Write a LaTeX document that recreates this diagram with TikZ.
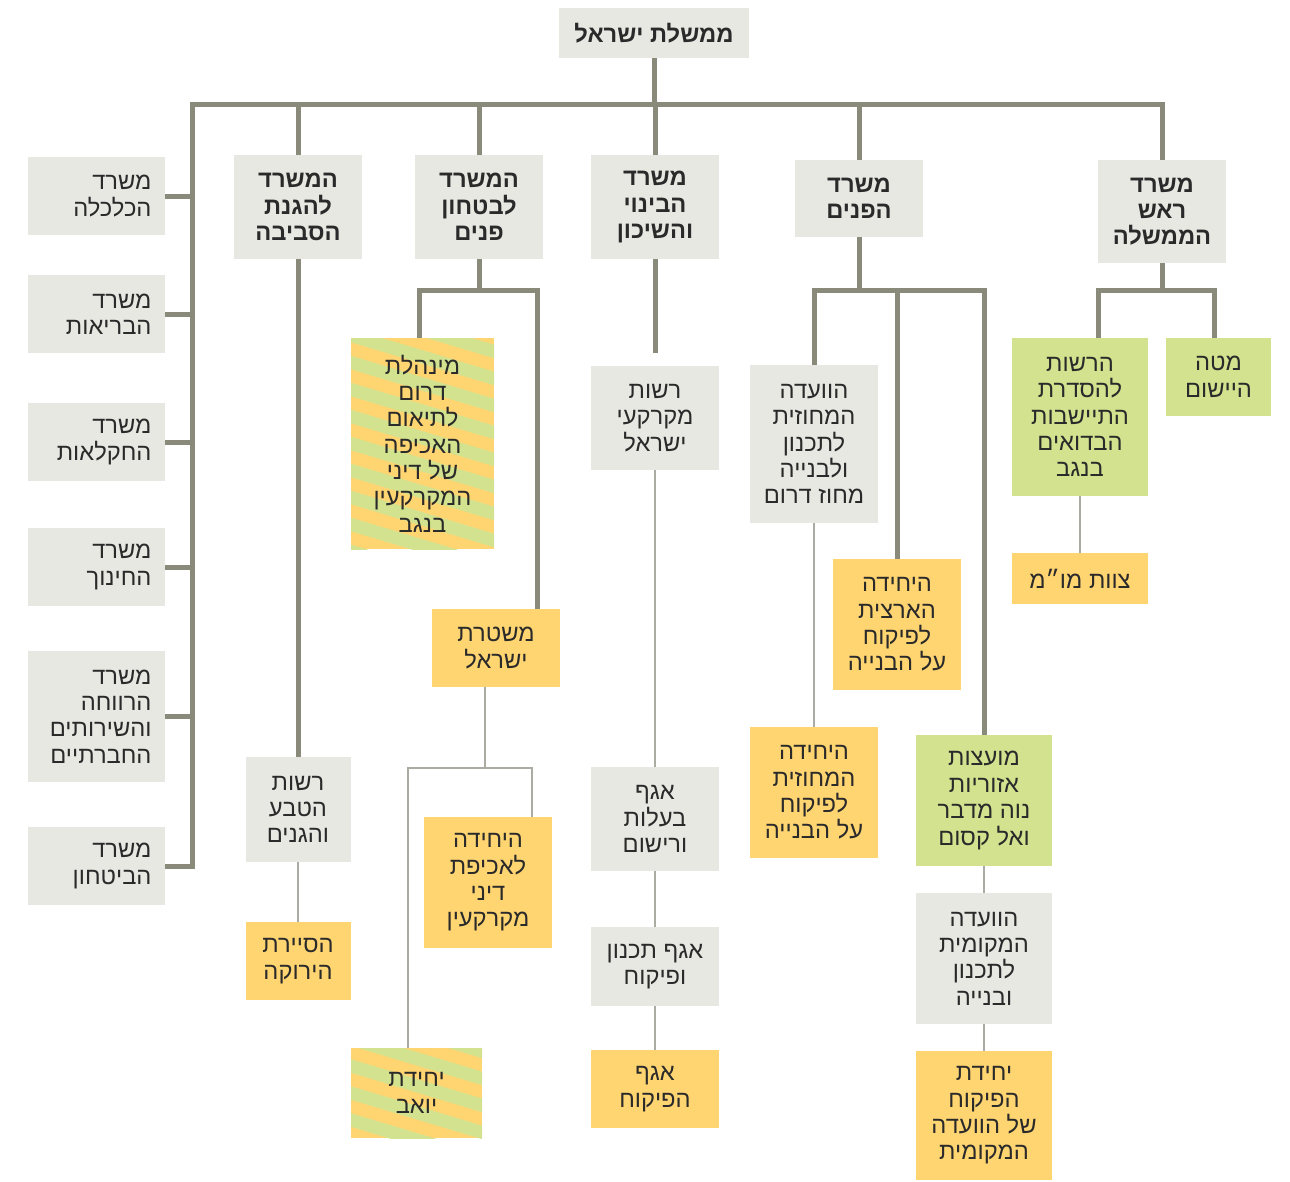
\documentclass[tikz,border=0pt]{standalone}
\usepackage{fontspec}
\setmainfont{Liberation Sans}
\newfontfamily\hebfont[Script=Hebrew]{Liberation Sans}
\TeXXeTstate=1
\newcommand{\rl}[1]{\beginR#1\endR}
\definecolor{boxGray}{HTML}{E7E8E2}
\definecolor{boxLime}{HTML}{D2E28E}
\definecolor{boxYellow}{HTML}{FFD572}
\definecolor{lineDark}{HTML}{8A8A7B}
\definecolor{lineLight}{HTML}{ABABA3}
\definecolor{inkText}{HTML}{2A2A2A}
\begin{document}
\begin{tikzpicture}[x=0.02cm,y=-0.02cm,
    orgbox/.style={inner sep=0pt, align=center, text=inkText,
      font=\hebfont\fontsize{13.5}{15}\selectfont},
    sz/.style 2 args={minimum width=#1*0.02cm, minimum height=#2*0.02cm},
    gbox/.style={orgbox, fill=boxGray},
    ybox/.style={orgbox, fill=boxYellow},
    lbox/.style={orgbox, fill=boxLime},
    sbox/.style={ybox, path picture={
        \foreach \k in {-14,...,14}
          \draw[line width=0.26cm, draw=boxLime]
            ([yshift=\k*0.54cm]path picture bounding box.west) ++(-2cm,0.6cm) -- ++(6cm,-1.8cm);}},
    mbox/.style={gbox, font=\hebfont\bfseries\fontsize{13.5}{15}\selectfont},
    sidebox/.style={gbox, sz={137}{78}, text width=2.2cm, inner xsep=0.27cm, align=right},
    trunk/.style={draw=lineDark, line width=0.1cm},
    twig/.style={draw=lineLight, line width=0.045cm}]
  \useasboundingbox (0,0) rectangle (1290,1181);

  % top
  \node[mbox, sz={190}{50}] (gov) at (654,33) {\rl{ממשלת ישראל}};

  % ministries on the left
  \node[sidebox] (econ) at (96.5,196) {\rl{משרד}\\\rl{הכלכלה}};
  \node[sidebox] (health) at (96.5,314) {\rl{משרד}\\\rl{הבריאות}};
  \node[sidebox] (agri) at (96.5,442) {\rl{משרד}\\\rl{החקלאות}};
  \node[sidebox] (edu) at (96.5,567) {\rl{משרד}\\\rl{החינוך}};
  \node[sidebox, sz={137}{131}] (welfare) at (96.5,716.5) {\rl{משרד}\\\rl{הרווחה}\\\rl{והשירותים}\\\rl{החברתיים}};
  \node[sidebox] (defense) at (96.5,866) {\rl{משרד}\\\rl{הביטחון}};

  % ministries in the row
  \node[mbox, sz={128}{104}] (env) at (298,207) {\rl{המשרד}\\\rl{להגנת}\\\rl{הסביבה}};
  \node[mbox, sz={128}{104}] (sec) at (479,207) {\rl{המשרד}\\\rl{לבטחון}\\\rl{פנים}};
  \node[mbox, sz={128}{104}] (housing) at (655,207) {\rl{משרד}\\\rl{הבינוי}\\\rl{והשיכון}};
  \node[mbox, sz={128}{77}] (interior) at (859,198.5) {\rl{משרד}\\\rl{הפנים}};
  \node[mbox, sz={128}{103}] (pm) at (1162,211.5) {\rl{משרד}\\\rl{ראש}\\\rl{הממשלה}};

  % environment
  \node[gbox, sz={105}{105}] (nature) at (298,809.5) {\rl{רשות}\\\rl{הטבע}\\\rl{והגנים}};
  \node[ybox, sz={105}{78}] (patrol) at (298,961) {\rl{הסיירת}\\\rl{הירוקה}};

  % internal security
  \node[sbox, sz={143}{211}] (negev) at (422.5,443.5) {\rl{מינהלת}\\\rl{דרום}\\\rl{לתיאום}\\\rl{האכיפה}\\\rl{של דיני}\\\rl{המקרקעין}\\\rl{בנגב}};
  \node[ybox, sz={128}{78}] (police) at (496,648) {\rl{משטרת}\\\rl{ישראל}};
  \node[ybox, sz={128}{131}] (landUnit) at (488,882.5) {\rl{היחידה}\\\rl{לאכיפת}\\\rl{דיני}\\\rl{מקרקעין}};
  \node[sbox, sz={131}{90}] (yoav) at (416.5,1093) {\rl{יחידת}\\\rl{יואב}};

  % housing
  \node[gbox, sz={128}{104}] (ila) at (655,418) {\rl{רשות}\\\rl{מקרקעי}\\\rl{ישראל}};
  \node[gbox, sz={128}{104}] (ownership) at (655,819) {\rl{אגף}\\\rl{בעלות}\\\rl{ורישום}};
  \node[gbox, sz={128}{79}] (planning) at (655,966.5) {\rl{אגף תכנון}\\\rl{ופיקוח}};
  \node[ybox, sz={128}{78}] (supervision) at (655,1089) {\rl{אגף}\\\rl{הפיקוח}};

  % interior
  \node[gbox, sz={128}{158}] (distComm) at (814,444) {\rl{הוועדה}\\\rl{המחוזית}\\\rl{לתכנון}\\\rl{ולבנייה}\\\rl{מחוז דרום}};
  \node[ybox, sz={128}{131}] (natUnit) at (897,624.5) {\rl{היחידה}\\\rl{הארצית}\\\rl{לפיקוח}\\\rl{על הבנייה}};
  \node[ybox, sz={128}{131}] (distUnit) at (814,792.5) {\rl{היחידה}\\\rl{המחוזית}\\\rl{לפיקוח}\\\rl{על הבנייה}};
  \node[lbox, sz={136}{131}] (councils) at (984,800.5) {\rl{מועצות}\\\rl{אזוריות}\\\rl{נוה מדבר}\\\rl{ואל קסום}};
  \node[gbox, sz={136}{131}] (localComm) at (984,958.5) {\rl{הוועדה}\\\rl{המקומית}\\\rl{לתכנון}\\\rl{ובנייה}};
  \node[ybox, sz={136}{129}] (localUnit) at (984,1115.5) {\rl{יחידת}\\\rl{הפיקוח}\\\rl{של הוועדה}\\\rl{המקומית}};

  % prime minister
  \node[lbox, sz={136}{158}] (bedouin) at (1080,417) {\rl{הרשות}\\\rl{להסדרת}\\\rl{התיישבות}\\\rl{הבדואים}\\\rl{בנגב}};
  \node[lbox, sz={105}{78}] (implement) at (1218.5,377) {\rl{מטה}\\\rl{היישום}};
  \node[ybox, sz={136}{51}] (negot) at (1080,578.5) {\rl{צוות מו״מ}};

  % main bar
  \coordinate (barL) at (192,104);
  \coordinate (barR) at (pm.north |- barL);
  \draw[trunk] (gov.south) -- (gov.south |- barL);
  \draw[trunk] (defense.east) -- (defense.east -| barL) -- (barL) -- (barR) -- (pm.north);
  \foreach \m in {econ,health,agri,edu,welfare}
    \draw[trunk] (\m.east) -- (\m.east -| barL);
  \foreach \m in {env,sec,housing,interior}
    \draw[trunk] (\m.north) -- (\m.north |- barL);

  % branches
  \coordinate (secJ) at (sec.south |- 0,290);
  \coordinate (intJ) at (interior.south |- 0,290);
  \coordinate (pmJ) at (pm.south |- 0,290);
  \coordinate (polJ) at (485,768);
  \draw[trunk] (env.south) -- (nature.north);
  \draw[twig] (nature.south) -- (patrol.north);
  \draw[trunk] (sec.south) -- (secJ);
  \draw[trunk] (negev.north -| 419,0) |- (secJ) -| (police.north -| 537,0);
  \draw[twig] (police.south -| polJ) -- (polJ);
  \draw[twig] (yoav.north -| 408,0) |- (polJ) -| (landUnit.north -| 532,0);
  \draw[trunk, shorten >=0.26cm] (housing.south) -- (ila.north);
  \draw[twig] (ila.south) -- (ownership.north) (ownership.south) -- (planning.north)
    (planning.south) -- (supervision.north);
  \draw[trunk] (interior.south) -- (intJ);
  \draw[trunk] (distComm.north) |- (intJ) -| (councils.north);
  \draw[trunk] (natUnit.north) -- (natUnit.north |- intJ);
  \draw[twig] (distComm.south) -- (distUnit.north);
  \draw[twig] (councils.south) -- (localComm.north) (localComm.south) -- (localUnit.north);
  \draw[trunk] (pm.south) -- (pmJ);
  \draw[trunk] (bedouin.north -| 1098,0) |- (pmJ) -| (implement.north -| 1214,0);
  \draw[twig] (bedouin.south) -- (negot.north);
\end{tikzpicture}
\end{document}
